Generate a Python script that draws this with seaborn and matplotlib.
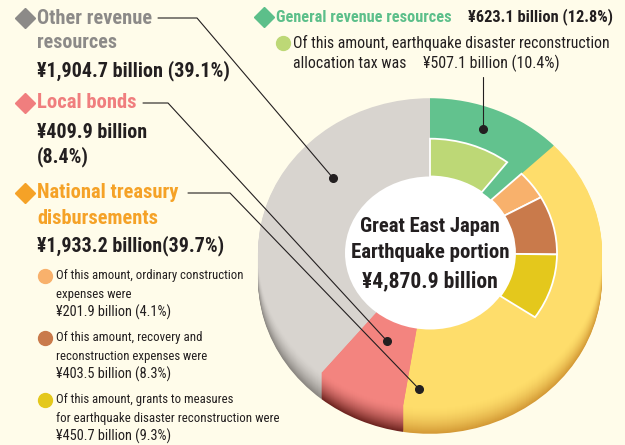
import matplotlib
matplotlib.use("Agg")
import numpy as np
import matplotlib.pyplot as plt
from matplotlib import font_manager
from matplotlib.colors import to_rgb
from matplotlib.patches import Ellipse
import seaborn as sns

# outer ring, clockwise from 12 o'clock
outer_labels = ["General revenue resources", "National treasury disbursements",
                "Local bonds", "Other revenue resources"]
outer_amount = [623.1, 1933.2, 409.9, 1904.7]
outer_share = [12.8, 39.7, 8.4, 39.1]

# inner ring, "of this amount" breakdowns
inner_labels = ["earthquake disaster reconstruction allocation tax",
                "ordinary construction expenses",
                "recovery and reconstruction expenses",
                "grants to measures for earthquake disaster reconstruction"]
inner_amount = [507.1, 201.9, 403.5, 450.7]
inner_share = [10.4, 4.1, 8.3, 9.3]

total_amount = 4870.9

outer_colors = sns.color_palette(["#62c28e", "#fedd6b", "#f3847f", "#d8d4cf"])
side_colors = sns.color_palette(["#3e8c60", "#d49a36", "#6e2420", "#8a8681"])
inner_colors = sns.color_palette(["#bdd876", "#f8b16c", "#c97a4b", "#e4c81c"])

BG = "#fffcea"
INK = "#231f20"


def pick_narrow_font():
    """Find a condensed sans family, the reference uses a condensed face."""
    entries = font_manager.fontManager.ttflist
    names = {f.name for f in entries}
    for fam in ["Roboto Condensed", "Liberation Sans Narrow", "Noto Sans Condensed",
                "Open Sans Condensed", "DejaVu Sans Condensed"]:
        if fam in names:
            return fam, "normal"
    for fam in ["Roboto", "Noto Sans", "Open Sans", "DejaVu Sans", "Liberation Sans"]:
        if any(f.name == fam and f.stretch == "condensed" for f in entries):
            return fam, "condensed"
    return "Liberation Sans", "normal"


sns.set_theme(style="white")
family, stretch = pick_narrow_font()
plt.rcParams["font.family"] = [family, "DejaVu Sans"]
plt.rcParams["font.stretch"] = stretch

W, H = 625, 445
CX, CY = 430, 253          # pixel centre of the donut
R_OUT, R_IN, R_HOLE = 172, 127, 85
SQUASH = 0.9               # vertical squash of the tilted disc
DEPTH = 26                 # thickness of the disc side


def money(v):
    return "\u00a5{:,.1f} billion".format(v)


fig = plt.figure(figsize=(W / 100, H / 100), dpi=100, facecolor=BG)

# ---- the donut, drawn in pixel units with y squashed
ax = fig.add_axes([0, 0, 1, 1])
cy = (H - CY) / SQUASH

# disc side: stacked copies shifted down, darker with depth
for d in range(DEPTH, 0, -1):
    t = (d / DEPTH) ** 1.6
    cols = [tuple(np.array(to_rgb(c)) * (1 - t) + np.array(to_rgb(s)) * t)
            for c, s in zip(outer_colors, side_colors)]
    ax.pie(outer_share, colors=cols, radius=R_OUT, center=(CX, cy - d / SQUASH),
           startangle=90, counterclock=False, wedgeprops=dict(linewidth=0))

ax.pie(outer_share, colors=outer_colors, radius=R_OUT, center=(CX, cy),
       startangle=90, counterclock=False, wedgeprops=dict(linewidth=0))

gap = outer_share[0] - inner_share[0]
rest = 100 - outer_share[0] - sum(inner_share[1:])
inner_vals = [inner_share[0], gap] + inner_share[1:] + [rest]
inner_cols = [inner_colors[0], "none"] + list(inner_colors[1:]) + ["none"]
wedges, _ = ax.pie(inner_vals, colors=inner_cols, radius=R_IN, center=(CX, cy),
                   startangle=90, counterclock=False,
                   wedgeprops=dict(width=R_IN - R_HOLE, edgecolor="white",
                                   linewidth=1.3))
wedges[1].set_visible(False)
wedges[-1].set_visible(False)

ax.add_patch(Ellipse((CX, cy), 2 * R_HOLE, 2 * R_HOLE, fc="white", ec="none"))

ax.set_aspect("auto")
ax.set_xlim(0, W)
ax.set_ylim(0, H / SQUASH)
ax.axis("off")

# ---- annotations, in pixel coordinates (y down)
ov = fig.add_axes([0, 0, 1, 1])
ov.set_xlim(0, W)
ov.set_ylim(H, 0)
ov.axis("off")
ov.patch.set_alpha(0)
renderer = fig.canvas.get_renderer()


def put(x, y, s, size, width, **kw):
    """Place a text and fit its size to the width it has in the reference."""
    t = ov.text(x, y, s, fontsize=size, va="center", **kw)
    w = t.get_window_extent(renderer).width
    t.set_fontsize(size * np.clip(width / w, 0.6, 1.15))
    return t


def put_block(x, ys, lines, widths, size, **kw):
    """Lines of one paragraph: fitted to the reference widths, but pulled
    half way towards a common size so the block reads as one size."""
    texts = [ov.text(x, y, s, fontsize=size, va="center", **kw)
             for y, s in zip(ys, lines)]
    ratios = np.array([wd / t.get_window_extent(renderer).width
                       for t, wd in zip(texts, widths)])
    base = ratios.min()
    for t, r in zip(texts, ratios):
        t.set_fontsize(size * base * (r / base) ** 0.5)
    return texts


# centre label
put(CX, 227, "Great East Japan", 15, 140, ha="center", fontweight="bold", color=INK)
put(CX, 253, "Earthquake portion", 15, 159, ha="center", fontweight="bold", color=INK)
put(CX, 281, money(total_amount), 15, 136, ha="center", fontweight="bold", color=INK)

# leader lines with end dots
leaders = [
    ([158, 197, 333], [18, 18, 178]),
    ([143, 168, 387], [103, 103, 341]),
    ([188, 230, 419], [193, 193, 389]),
    ([483, 483], [77, 129]),
]
for xs, ys in leaders:
    ov.plot(xs, ys, color=INK, lw=0.8)
    ov.plot(xs[-1], ys[-1], "o", color=INK, ms=5.5)

# left column: outer ring items
GRAY_T, RED_T, ORANGE_T = "#8c8a88", "#f07e7e", "#f5a227"
ov.plot(25, 18, "D", color=GRAY_T, ms=10)
put(37, 18, "Other revenue", 14.5, 115, fontweight="bold", color=GRAY_T)
put(37, 43, "resources", 14.5, 80, fontweight="bold", color=GRAY_T)
put(37, 71, "{} ({:.1f}%)".format(money(outer_amount[3]), outer_share[3]),
    14.5, 193, fontweight="bold", color=INK)

ov.plot(25, 103, "D", color=RED_T, ms=10)
put(37, 103, outer_labels[2], 14.5, 100, fontweight="bold", color=RED_T)
put(37, 132, money(outer_amount[2]), 14.5, 110, fontweight="bold", color=INK)
put(37, 157, "({:.1f}%)".format(outer_share[2]), 14.5, 52,
    fontweight="bold", color=INK)

ov.plot(25, 193, "D", color=ORANGE_T, ms=10)
put(37, 193, "National treasury", 14.5, 142, fontweight="bold", color=ORANGE_T)
put(37, 218, "disbursements", 14.5, 121, fontweight="bold", color=ORANGE_T)
put(37, 246, "{}({:.1f}%)".format(money(outer_amount[1]), outer_share[1]),
    14.5, 187, fontweight="bold", color=INK)

# left column: breakdowns of national treasury disbursements
subs = [
    (276, ["Of this amount, ordinary construction", "expenses were"], [186, 75]),
    (338, ["Of this amount, recovery and", "reconstruction expenses were"], [145, 150]),
    (400, ["Of this amount, grants to measures",
           "for earthquake disaster reconstruction were"], [177, 220]),
]
for k, (y, lines, widths) in enumerate(subs):
    ov.plot(45, y, "o", color=inner_colors[k + 1], ms=10)
    lines = lines + ["{} ({:.1f}%)".format(money(inner_amount[k + 1]),
                                           inner_share[k + 1])]
    widths = widths + [131]
    put_block(56, [y, y + 18.3, y + 36.6], lines, widths, 10, color=INK)

# top right block
GREEN_T = "#5cbf8a"
ov.plot(264, 17, "D", color=GREEN_T, ms=10)
put(276, 17, outer_labels[0], 12, 175, fontweight="bold", color=GREEN_T)
put(468, 17, "{} ({:.1f}%)".format(money(outer_amount[0]), outer_share[0]),
    12, 144, fontweight="bold", color=INK)
ov.plot(283, 43, "o", color=inner_colors[0], ms=10)
tr = put_block(293, [43, 63, 63],
               ["Of this amount, earthquake disaster reconstruction",
                "allocation tax was",
                "{} ({:.1f}%)".format(money(inner_amount[0]), inner_share[0])],
               [319, 112, 140], 11.5, color=INK)
tr[2].set_x(423)

fig.savefig("out.png", dpi=100, facecolor=BG)
